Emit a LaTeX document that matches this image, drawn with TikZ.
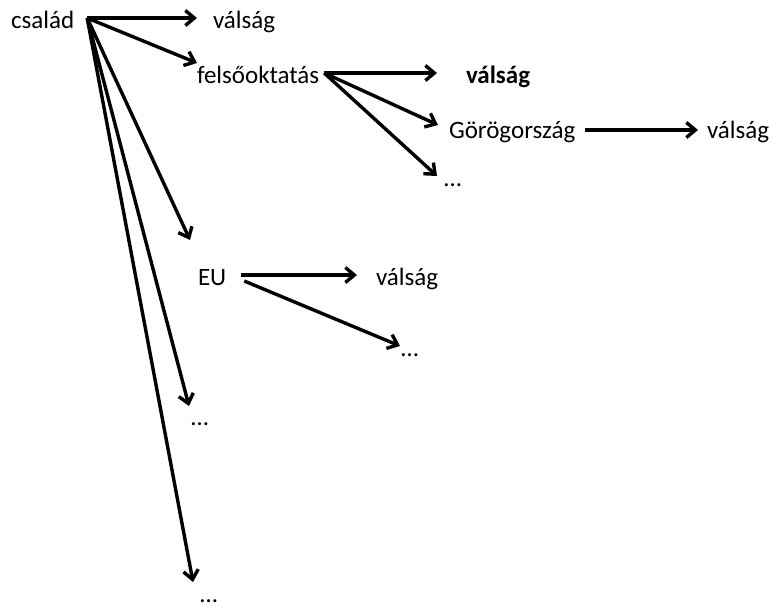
\documentclass[tikz,border=0pt]{standalone}
\usepackage{fontspec}
\setmainfont{Carlito}
\usetikzlibrary{arrows.meta}

\begin{document}
\begin{tikzpicture}[x=1pt,y=-1pt,
        word/.style={font=\fontsize{25}{30}\selectfont, inner sep=0pt, outer sep=0pt, text height=20pt, text depth=0pt, anchor=base west},
        arr/.style={line width=3.4pt, -{Straight Barb[length=9pt,width=15pt]}}]
                \useasboundingbox (0,0) rectangle (772,608);
                \node[word] (csalad) at (11,28) {család};
                \node[word] (valsagA) at (213,28) {válság};
                \node[word] (felso) at (197,83) {felsőoktatás};
                \node[word, font=\fontsize{25}{30}\selectfont\bfseries] (valsagB) at (466,83) {válság};
                \node[word] (gorog) at (449,138) {Görögország};
                \node[word] (valsagC) at (707,138) {válság};
                \node[word] (dotsA) at (444,186) {…};
                \node[word] (eu) at (198,285) {EU};
                \node[word] (valsagD) at (376,285) {válság};
                \node[word] (dotsB) at (401,356) {…};
                \node[word] (dotsC) at (191,425) {…};
                \node[word] (dotsD) at (200,602) {…};
                % from család
                \draw[arr] ([xshift=13pt]csalad.east) -- ([xshift=-16pt]valsagA.west);
                \draw[arr] ([xshift=13pt]csalad.east) -- (felso.north west);
                \draw[arr] ([xshift=13pt]csalad.east) -- ([xshift=-8pt,yshift=25pt]eu.north west);
                \draw[arr] ([xshift=13pt]csalad.east) -- ([xshift=-2pt,yshift=-1pt]dotsC.north west);
                \draw[arr] ([xshift=13pt]csalad.east) -- ([xshift=-7pt]dotsD.north west);
                % from felsőoktatás
                \draw[arr] ([xshift=5pt]felso.east) -- ([xshift=-29pt]valsagB.west);
                \draw[arr] ([xshift=5pt]felso.east) -- ([xshift=-11pt,yshift=3pt]gorog.west);
                \draw[arr] ([xshift=5pt]felso.east) -- ([xshift=-7pt]dotsA.west);
                \draw[arr] ([xshift=10pt,yshift=-2pt]gorog.east) -- ([xshift=-9pt,yshift=-2pt]valsagC.west);
                % from EU
                \draw[arr] ([xshift=15pt]eu.east) -- ([xshift=-19pt]valsagD.west);
                \draw[arr] ([xshift=18pt,yshift=-6pt]eu.east) -- ([xshift=-1pt]dotsB.west);
            \end{tikzpicture}
\end{document}
